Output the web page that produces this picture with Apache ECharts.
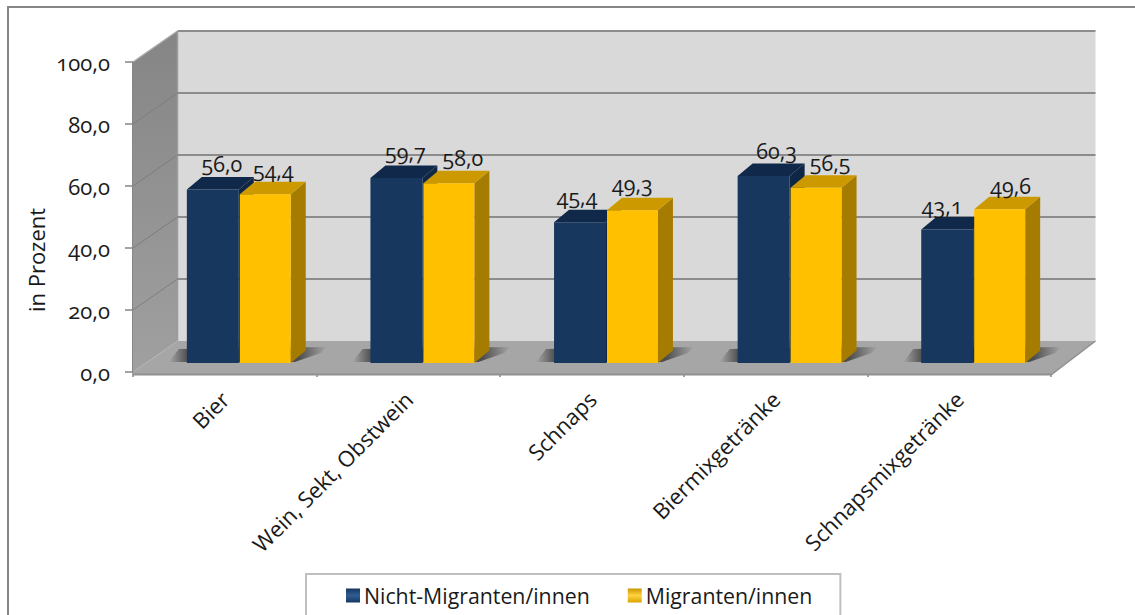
<!DOCTYPE html>
<html><head><meta charset="utf-8">
<style>html,body{margin:0;padding:0;background:#fff}#c{width:1135px;height:615px}
svg text{font-variant-numeric:oldstyle-nums !important;font-feature-settings:"onum" 1 !important}</style>
<script src="https://cdn.jsdelivr.net/npm/echarts@6/dist/echarts.min.js"></script></head>
<body><div id="c"></div><script>
const categories=['Bier','Wein, Sekt, Obstwein','Schnaps','Biermixgetränke','Schnapsmixgetränke'];
const nichtMigranten=[56.0,59.7,45.4,60.3,43.1];
const migranten=[54.4,58.0,49.3,56.5,49.6];
const yTicks=[0,20,40,60,80,100];
const seriesNames=['Nicht-Migranten/innen','Migranten/innen'];
const axisTitle='in Prozent';
const FONT='"Open Sans"';
const comma=v=>v.toFixed(1).replace('.',',');
const WALL={dx:44.5,dy:-31},BAR={dx:15,dy:-12.5,ox:14,oy:-9,w:0.283};
const LABEL_SHIFT_NAVY=[[9,0],[9,0],[-3,0],[13,0],[-5,2]];
const LABEL_SHIFT_GOLD=[[8,0],[14,-1],[0,-2],[14,0],[11,1]];
const chart=echarts.init(document.getElementById('c'),null,{renderer:'svg'});
function poly(points,fill,extra){return Object.assign({type:'polygon',shape:{points},style:{fill},silent:true},extra||{});}
function renderWalls(params,api){
  const c=params.coordSys,x0=c.x,x1=c.x+c.width,yb=c.y+c.height,yt=c.y,ch=[];
  ch.push(poly([[x0+WALL.dx,yt+WALL.dy],[x1+WALL.dx,yt+WALL.dy],[x1+WALL.dx,yb+WALL.dy],[x0+WALL.dx,yb+WALL.dy]],'#d9d9d9'));
  ch.push(poly([[x0,yt],[x0+WALL.dx,yt+WALL.dy],[x0+WALL.dx,yb+WALL.dy],[x0,yb]],
    new echarts.graphic.LinearGradient(0,0,0,1,[{offset:0,color:'#858585'},{offset:1,color:'#a0a0a0'}])));
  ch.push(poly([[x0,yb],[x0+WALL.dx,yb+WALL.dy],[x1+WALL.dx,yb+WALL.dy],[x1,yb+3],[x0,yb+3]],'#a6a6a6'));
  ch.push({type:'line',shape:{x1:x0,y1:yb+2.5,x2:x1,y2:yb+2.5},style:{stroke:'#8f8f8f',lineWidth:2},silent:true});
  ch.push({type:'line',shape:{x1:x1,y1:yb+3,x2:x1+WALL.dx,y2:yb+WALL.dy},style:{stroke:'#8f8f8f',lineWidth:1.5},silent:true});
  ch.push({type:'line',shape:{x1:x0+WALL.dx,y1:yt+WALL.dy,x2:x0+WALL.dx,y2:yb+WALL.dy},style:{stroke:'#9c9c9c',lineWidth:1.5},silent:true});
  yTicks.forEach(v=>{
    const y=api.coord([0,v])[1];
    if(v>0){
      ch.push({type:'line',shape:{x1:x0+WALL.dx,y1:y+WALL.dy,x2:x1+WALL.dx,y2:y+WALL.dy},style:{stroke:'#8c8c8c',lineWidth:2},silent:true});
      if(v<100)ch.push({type:'line',shape:{x1:x0,y1:y,x2:x0+WALL.dx,y2:y+WALL.dy},style:{stroke:'#7d7d7d',lineWidth:1},silent:true});
    }
    if(v===100)ch.push({type:'line',shape:{x1:x0,y1:y,x2:x0+WALL.dx,y2:y+WALL.dy},style:{stroke:'#a8a8a8',lineWidth:1.5},silent:true});
  });
  categories.forEach((_,i)=>{
    const px=api.coord([i,0]),w=api.size([1,0])[0]*BAR.w,cx=px[0]+BAR.ox,yy=px[1]+BAR.oy;
    const L=cx-w-18,R=cx+w+44,span=R-L;
    const grad=new echarts.graphic.LinearGradient(0,0,1,0,[
      {offset:0,color:'rgba(60,60,60,0)'},
      {offset:18/span,color:'rgba(60,60,60,0.75)'},
      {offset:(2*w+18+14)/span,color:'rgba(60,60,60,0.85)'},
      {offset:1,color:'rgba(60,60,60,0)'}]);
    ch.push(poly([[L,yy-1],[L+10,yy-14],[R-8,yy-16],[R-14,yy-10],[cx+w+4,yy-1]],grad));
  });
  return {type:'group',children:ch};
}
function barRenderer(side,colors,labelDy,shifts){
  return function(params,api){
    const i=api.value(0),v=api.value(1),p=api.coord([i,v]),b=api.coord([i,0]);
    const w=api.size([1,0])[0]*BAR.w,cx=p[0]+BAR.ox;
    const x0=side<0?cx-w:cx+1,x1=x0+w-(side<0?0:1),yt=p[1]+BAR.oy,yb=b[1]+BAR.oy;
    const d=BAR;
    return {type:'group',children:[
      poly([[x1,yt],[x1+d.dx,yt+d.dy],[x1+d.dx,yb+d.dy],[x1,yb]],colors.side),
      poly([[x0,yt],[x0+d.dx,yt+d.dy],[x1+d.dx,yt+d.dy],[x1,yt]],colors.top),
      {type:'rect',shape:{x:x0,y:yt,width:x1-x0,height:yb-yt},style:{fill:colors.front},silent:true},
      {type:'text',x:(x0+x1)/2+shifts[i][0],y:yt+labelDy+shifts[i][1],style:{text:comma(v),fill:'#1a1a1a',font:'21.5px '+FONT,align:'center',verticalAlign:'middle'},silent:true}
    ]};
  };
}
const navyC={front:'#17375e',top:'#10294a',side:'#0f2644'},goldC={front:'#ffc000',top:'#cc9a00',side:'#a67c00'};
const pairs=a=>a.map((v,i)=>[i,v]);
chart.setOption({
  animation:false,
  backgroundColor:'#fff',
  textStyle:{fontFamily:FONT},
  grid:{left:133,right:84,top:62,bottom:243,containLabel:false},
  xAxis:{type:'category',data:categories,offset:3,
    axisLine:{show:false},
    axisTick:{show:true,alignWithLabel:false,length:5,lineStyle:{color:'#868686',width:1.5}},
    axisLabel:{rotate:45,interval:0,margin:20,fontSize:22,color:'#1a1a1a',fontFamily:FONT},splitLine:{show:false}},
  yAxis:{type:'value',min:0,max:100,interval:20,
    axisLine:{show:true,lineStyle:{color:'#868686',width:2}},
    axisTick:{show:true,length:8,lineStyle:{color:'#868686',width:1.5}},
    axisLabel:{formatter:v=>comma(v),fontSize:22,margin:23,color:'#1a1a1a',fontFamily:FONT},splitLine:{show:false}},
  legend:{left:306,top:574,orient:'horizontal',padding:[11,28,32,40],itemGap:38,itemWidth:14,itemHeight:14,
    borderColor:'#bfbfbf',borderWidth:2,backgroundColor:'#fff',selectedMode:false,
    textStyle:{fontSize:21.3,color:'#1a1a1a',fontFamily:FONT,padding:[0,0,0,-1]},
    data:[
      {name:seriesNames[0],icon:'rect',itemStyle:{color:new echarts.graphic.LinearGradient(0,0,0,1,[{offset:0,color:'#17375e'},{offset:.5,color:'#2f5d93'},{offset:1,color:'#17375e'}])}},
      {name:seriesNames[1],icon:'rect',itemStyle:{color:new echarts.graphic.LinearGradient(0,0,0,1,[{offset:0,color:'#c99700'},{offset:.5,color:'#ffd23f'},{offset:1,color:'#d9a400'}])}}
    ]},
  graphic:[
    {type:'polyline',shape:{points:[[8,615],[8,7],[1135,7]]},style:{stroke:'#868686',lineWidth:2,fill:null},silent:true,z:-1},
    {type:'text',x:36,y:260,rotation:Math.PI/2,style:{text:axisTitle,font:'22px '+FONT,fill:'#1a1a1a',align:'center',verticalAlign:'middle'},silent:true}
  ],
  series:[
    {type:'custom',name:'walls',coordinateSystem:'cartesian2d',clip:false,data:[[0,0]],renderItem:renderWalls,z:1,silent:true,tooltip:{show:false}},
    {type:'custom',name:seriesNames[0],coordinateSystem:'cartesian2d',clip:false,data:pairs(nichtMigranten),encode:{x:0,y:1},renderItem:barRenderer(-1,navyC,-26,LABEL_SHIFT_NAVY),z:2,itemStyle:{color:navyC.front}},
    {type:'custom',name:seriesNames[1],coordinateSystem:'cartesian2d',clip:false,data:pairs(migranten),encode:{x:0,y:1},renderItem:barRenderer(1,goldC,-25,LABEL_SHIFT_GOLD),z:3,itemStyle:{color:goldC.front}}
  ]
});
</script></body></html>
